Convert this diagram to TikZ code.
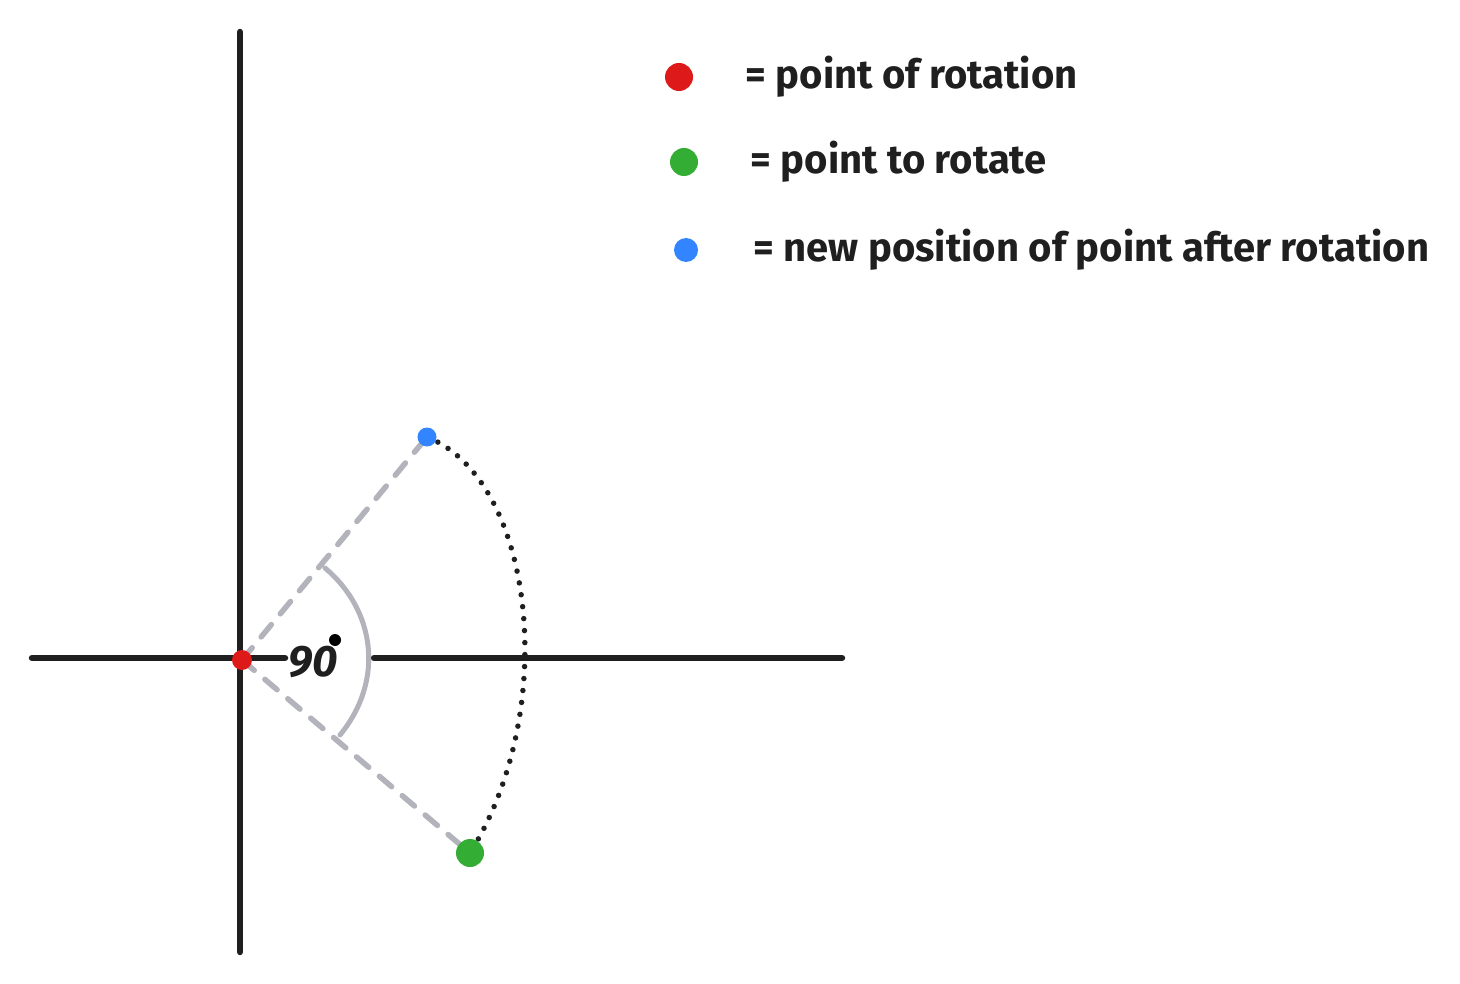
\documentclass[tikz,border=0pt]{standalone}
\usepackage{fontspec}
\setmainfont{Fira Sans}
\begin{document}
\begin{tikzpicture}[x=1pt,y=-1pt,
  axis/.style={line width=6.5pt,color=black!88,line cap=round},
  guide/.style={line width=5.5pt,color=gray!40!blue!8!white!75!black,dash pattern=on 16pt off 14pt,line cap=round},
  dot/.style={circle,inner sep=0pt,minimum size=#1},
  lbl/.style={anchor=west,font=\fontsize{40}{46}\selectfont\bfseries,text=black!88}]
\useasboundingbox (0,0) rectangle (1460,984);
\draw[axis] (240,32) -- (240,952);
\draw[axis] (32,658) -- (285,658);
\draw[axis] (374,658) -- (842,658);
\coordinate (o) at (242,660);
\coordinate (b) at (427,437);
\coordinate (g) at (470,853);
\draw[guide] (o) -- (b);
\draw[guide] (o) -- (g);
\draw[line width=5pt,color=gray!40!blue!8!white!75!black,line cap=round] (325,568) .. controls (375,610) and (385,680) .. (340,735);
\draw[line width=5.5pt,black!88,dash pattern=on 0pt off 12pt,line cap=round] (b) .. controls (535,480) and (560,710) .. (g);
\node[dot=20pt,fill=red!85!black!90] (red) at (o) {};
\node[dot=28pt,fill=green!60!black!80] (grn) at (g) {};
\node[dot=19pt,fill=blue!60!cyan!80] (blu) at (b) {};
\node[dot=12pt,fill=black] (sd) at (335,640) {};
\node[font=\fontsize{44}{48}\selectfont\bfseries\itshape,text=black!88] (ang) at (313,662) {90};
\node[dot=28pt,fill=red!85!black!90] (lr) at (679,77) {};
\node[dot=28pt,fill=green!60!black!80] (lg) at (684,162) {};
\node[dot=24pt,fill=blue!60!cyan!80] (lb) at (686,250) {};
\node[lbl] (t1) at (742,77) {= point of rotation};
\node[lbl] (t2) at (747,162) {= point to rotate};
\node[lbl] (t3) at (750,250) {= new position of point after rotation};
\end{tikzpicture}
\end{document}
